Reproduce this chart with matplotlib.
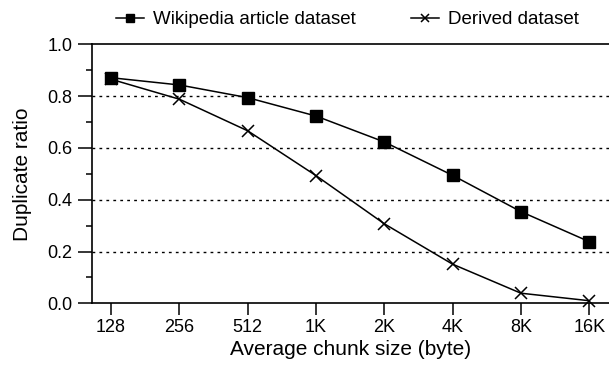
import matplotlib.pyplot as plt
from matplotlib.ticker import MultipleLocator

plt.rcParams['font.family'] = ['Liberation Sans', 'DejaVu Sans']

chunk_labels = ["128", "256", "512", "1K", "2K", "4K", "8K", "16K"]
wikipedia = [0.871, 0.843, 0.794, 0.723, 0.623, 0.494, 0.354, 0.238]
derived = [0.865, 0.788, 0.666, 0.493, 0.307, 0.151, 0.039, 0.010]

fig = plt.figure(figsize=(6.09, 3.71), dpi=100)
ax = fig.add_axes([92 / 609, 1 - 303.3 / 371, (609 - 92) / 609, 259 / 371])

xs = list(range(len(chunk_labels)))
ax.plot(xs, wikipedia, color="black", lw=1.1, marker="s", ms=8,
        label="Wikipedia article dataset", clip_on=False, zorder=3)
ax.plot(xs, derived, color="black", lw=1.1, marker="x", ms=9, mew=1.1,
        label="Derived dataset", clip_on=False, zorder=3)

for y in [0.2, 0.4, 0.6, 0.8]:
    ax.axhline(y, color="black", lw=1.0, ls=(0, (2, 3)), zorder=1)

ax.set_xlim(-0.28, 7.29)
ax.set_ylim(0, 1.0)
ax.set_xticks(xs)
ax.set_xticklabels(chunk_labels)
ax.yaxis.set_major_locator(MultipleLocator(0.2))
ax.yaxis.set_minor_locator(MultipleLocator(0.1))
ax.yaxis.set_major_formatter(plt.FormatStrFormatter("%.1f"))

ax.spines["right"].set_visible(False)
for s in ["left", "top", "bottom"]:
    ax.spines[s].set_linewidth(1.2)
ax.tick_params(axis="x", which="major", direction="out", length=8.5,
               width=1.1, labelsize=13, pad=3)
ax.tick_params(axis="y", which="major", direction="out", length=9.8,
               width=1.1, labelsize=13, pad=4.5)
ax.tick_params(axis="y", which="minor", direction="out", length=4.5, width=1.1)
ax.tick_params(axis="x", which="minor", bottom=False)

ax.set_xlabel("Average chunk size (byte)", fontsize=15, labelpad=3)
ax.set_ylabel("Duplicate ratio", fontsize=15, labelpad=11)

leg = ax.legend(loc="lower center", bbox_to_anchor=(0.494, 1.0), ncol=2,
                frameon=False, fontsize=13.5, handlelength=1.5,
                columnspacing=2.9, handletextpad=0.5, borderaxespad=0.45,
                markerscale=0.7)

fig.savefig("out.png", dpi=100)
